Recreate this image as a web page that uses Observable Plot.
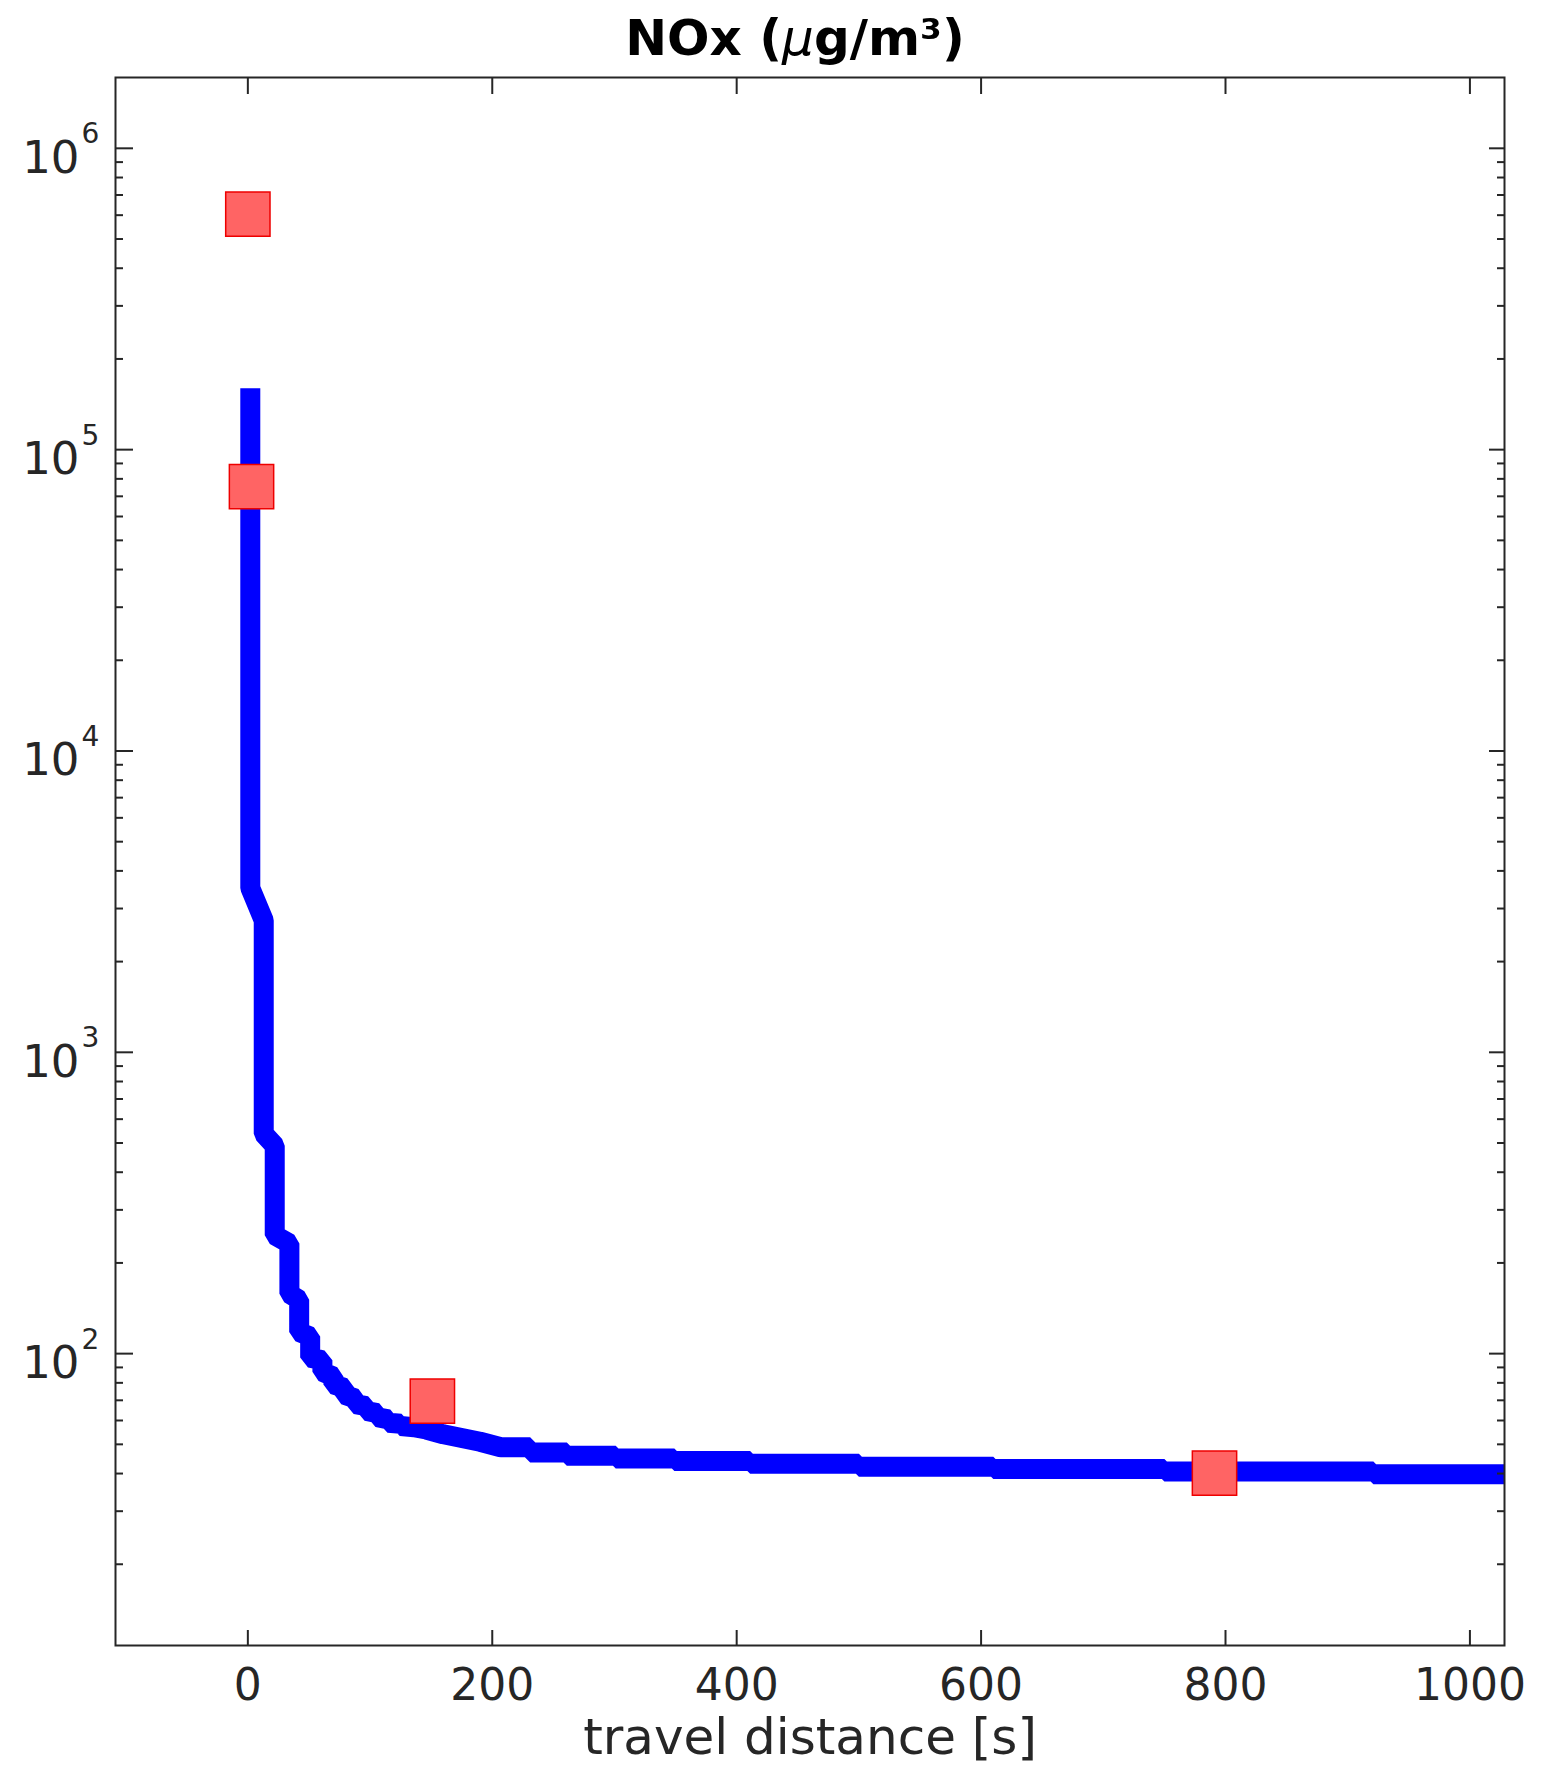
<!DOCTYPE html>
<html><head><meta charset="utf-8">
<script src="https://cdn.jsdelivr.net/npm/d3@7"></script>
<script src="https://cdn.jsdelivr.net/npm/@observablehq/plot@0.6"></script>
<style>
body{margin:0;background:#fff;}
#title{height:70px;box-sizing:border-box;padding-top:6px;padding-left:45px;text-align:center;font:bold 50px/64px "DejaVu Sans";color:#000;white-space:nowrap;}
#title i{font-weight:normal;}
</style></head><body>
<div id="title">NOx (<i>μ</i>g/m³)</div>
<div id="chart"></div>
<script>
// Model curve (travel distance [s], NOx µg/m³)
const distance = [2, 2, 13, 13, 22, 22, 34, 34, 42, 42, 51, 51, 61, 61, 70, 70, 79, 79, 88, 88, 97, 97, 106, 106, 115, 115, 125, 125, 136, 146, 160, 175, 190, 207, 231, 231, 261, 261, 301, 301, 349, 349, 411, 411, 500, 500, 610, 610, 750, 750, 921, 921, 1030];
const nox = [160000, 3510, 2740, 537, 490, 247, 232, 158, 151, 118, 114, 97, 95, 87, 84, 79, 77, 73, 71, 68, 67, 64.5, 63.5, 61.5, 60.5, 59, 58.5, 57.5, 57, 56, 54, 52.5, 51, 48.9, 48.9, 47.0, 47.0, 45.8, 45.8, 44.9, 44.9, 44.0, 44.0, 43.1, 43.1, 42.1, 42.1, 41.4, 41.4, 40.6, 40.6, 39.8, 39.8];
// Observations
const obsDistance = [0, 3, 151, 791];
const obsNox = [605000, 75400, 69.6, 40.1];
// Ticks
const xTicks = [0, 200, 400, 600, 800, 1000];
const yTicks = [1e2, 1e3, 1e4, 1e5, 1e6];
const yTickBase = ["10", "10", "10", "10", "10"];
const yTickExp = ["2", "3", "4", "5", "6"];
const xDomain = [-108.3, 1028.3];
const yDomain = [10.75, 1.718e6];

const yMinor = [];
for (const p of [1, 2, 3, 4, 5]) for (const m of [2, 3, 4, 5, 6, 7, 8, 9]) {
  const v = m * Math.pow(10, p);
  if (v > yDomain[0] && v < yDomain[1]) yMinor.push(v);
}

const curve = distance.map((d, i) => ({distance: d, nox: nox[i]}));
const obs = obsDistance.map((d, i) => ({distance: d, nox: obsNox[i]}));
const yLab = yTicks.map((t, i) => ({t, base: yTickBase[i], exp: yTickExp[i]}));
const ink = "#262626";

const chart = Plot.plot({
  width: 1545,
  height: 1712,
  marginLeft: 115,
  marginRight: 41,
  marginTop: 7,
  marginBottom: 137,
  style: {fontFamily: "DejaVu Sans", fontSize: "44px", color: ink, background: "white"},
  x: {domain: xDomain},
  y: {type: "log", domain: yDomain},
  marks: [
    Plot.line(curve, {x: "distance", y: "nox", stroke: "#0000ff", strokeWidth: 20, strokeLinecap: "butt", strokeLinejoin: "miter", clip: true}),
    Plot.dot(obs, {x: "distance", y: "nox", symbol: "square", r: 25, fill: "#ff6464", stroke: "#ee0000", strokeWidth: 1.5}),
    Plot.frame({stroke: ink, strokeWidth: 2}),
    Plot.axisY({anchor: "left", ticks: yTicks, tickSize: -18, strokeWidth: 2, tickFormat: () => "", label: null}),
    Plot.text(yLab, {y: "t", text: "base", frameAnchor: "left", textAnchor: "end", dx: -36, dy: 10, fontSize: 45, fill: ink}),
    Plot.text(yLab, {y: "t", text: "exp", frameAnchor: "left", textAnchor: "start", dx: -34, dy: -14, fontSize: 28, fill: ink}),
    Plot.axisY({anchor: "left", ticks: yMinor, tickSize: -8, strokeWidth: 2, tickFormat: () => "", label: null}),
    Plot.axisY({anchor: "right", ticks: yTicks, tickSize: -16, strokeWidth: 2, tickFormat: () => "", label: null}),
    Plot.axisY({anchor: "right", ticks: yMinor, tickSize: -8, strokeWidth: 2, tickFormat: () => "", label: null}),
    Plot.axisX({anchor: "bottom", ticks: xTicks, tickSize: -15, tickPadding: 38, strokeWidth: 2, tickFormat: d => String(d), label: null}),
    Plot.axisX({anchor: "top", ticks: xTicks, tickSize: -16, strokeWidth: 2, tickFormat: () => "", label: null}),
    Plot.text(["travel distance [s]"], {frameAnchor: "bottom", dy: 108, fontSize: 50, fill: ink})
  ]
});
document.getElementById("chart").appendChild(chart);
</script>
</body></html>
